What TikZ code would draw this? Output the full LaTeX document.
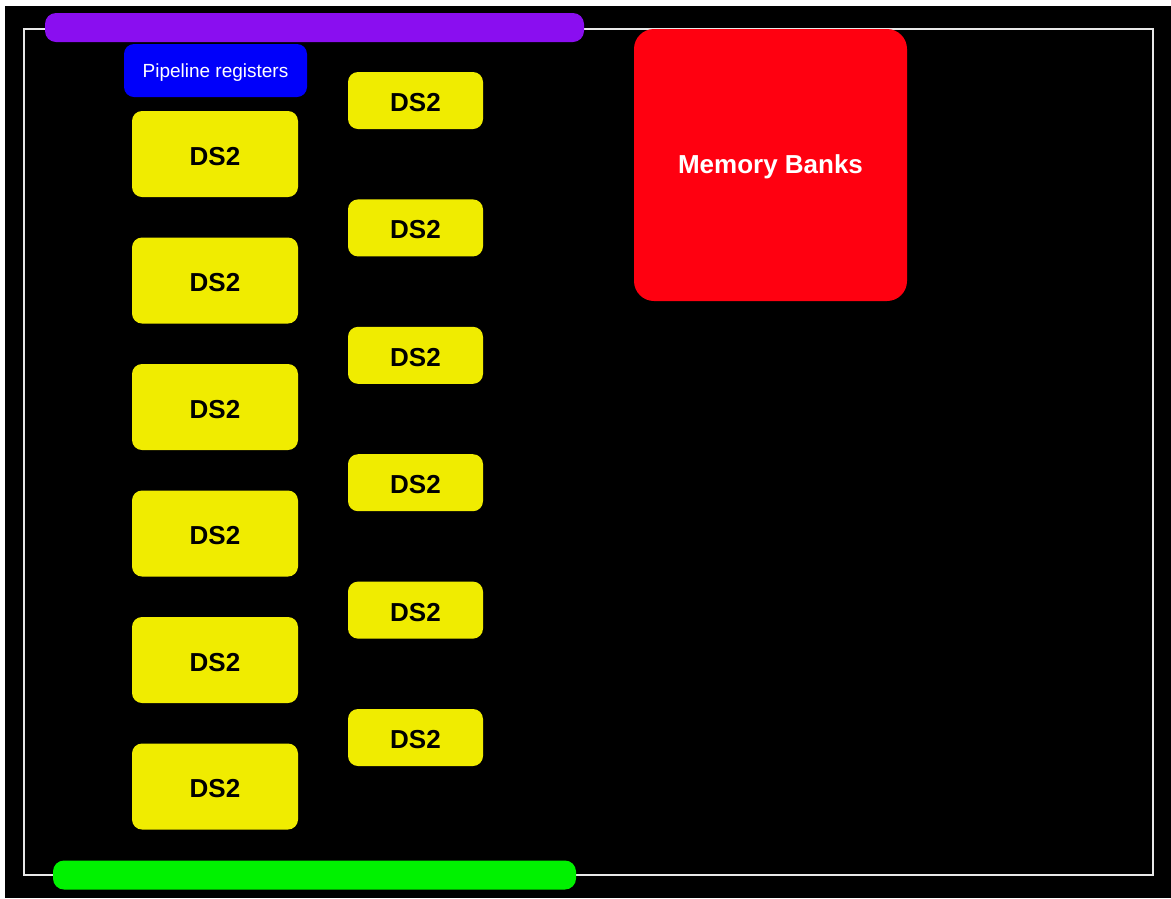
\documentclass[tikz,border=0pt]{standalone}
\usepackage{fontspec}
\setmainfont{Liberation Sans}
\definecolor{ylw}{RGB}{240,236,0}
\definecolor{prp}{RGB}{138,14,240}
\definecolor{blu}{RGB}{0,0,250}
\definecolor{redb}{RGB}{255,0,16}
\definecolor{grn}{RGB}{0,242,0}
\definecolor{frame}{RGB}{232,232,232}
\tikzset{
  box/.style={inner sep=0pt, outer sep=0pt, rounded corners=10pt},
  bigds/.style={box, fill=ylw, minimum width=166pt, minimum height=86pt,
     font=\fontsize{26}{30}\selectfont\bfseries, text=black, text height=22pt, text depth=0pt},
  smallds/.style={box, fill=ylw, minimum width=135pt, minimum height=57pt,
     font=\fontsize{26}{30}\selectfont\bfseries, text=black, text height=22pt, text depth=0pt},
  bar/.style={box, minimum height=29pt, rounded corners=11pt}
}
\begin{document}
\begin{tikzpicture}[x=1pt,y=-1pt]
\useasboundingbox (0,0) rectangle (1171,898);
\fill[white] (0,0) rectangle (1171,898);
\fill[black] (5,6) rectangle (1171,898);
\draw[frame, line width=2pt] (24,29) rectangle (1153,875);
\node[bar, fill=prp, minimum width=539pt] (topbar) at (314.5,27.5) {};
\node[bar, fill=grn, minimum width=523pt] (botbar) at (314.5,875) {};
\node[box, fill=blu, minimum width=183pt, minimum height=53pt, text=white,
      font=\fontsize{19}{22}\selectfont, text height=13.6pt, text depth=0pt] (pipe) at (215.5,70.5) {Pipeline registers};
\foreach \i in {0,...,5} {
  \node[bigds] (L\i) at (215,154+126.5*\i) {DS2};
  \node[smallds] (R\i) at (415.5,100.5+127.4*\i) {DS2};
}
\node[box, fill=redb, rounded corners=20pt, minimum width=273pt, minimum height=272pt,
      text=white, font=\fontsize{26}{30}\selectfont\bfseries, text height=16pt, text depth=0pt] (mem) at (770.5,165) {Memory Banks};
\end{tikzpicture}
\end{document}
